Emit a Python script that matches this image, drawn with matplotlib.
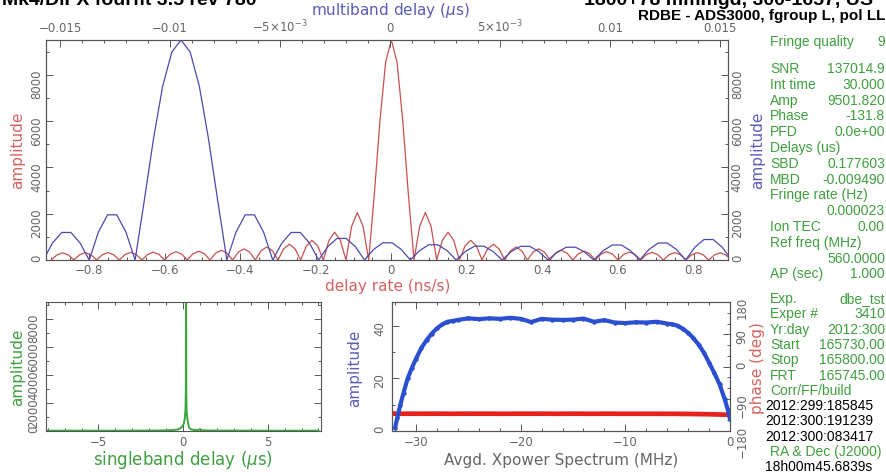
import numpy as np
import matplotlib
matplotlib.use("Agg")
import matplotlib.pyplot as plt
from matplotlib.ticker import FixedLocator, MultipleLocator, FuncFormatter

W, H = 887, 476

# --- delay rate spectrum (red), sampled every 0.015 ns/s from -0.9 to 0.9
rate_x = np.linspace(-0.9, 0.9, 121)
rate_amp = [0, 220, 310, 220, 0, 227, 320, 227, 0, 227, 320, 227, 0, 234, 330, 234,
            0, 241, 340, 241, 0, 256, 360, 256, 0, 270, 380, 270, 0, 298, 420, 298,
            0, 341, 480, 341, 0, 398, 560, 398, 0, 483, 680, 483, 0, 604, 850, 604,
            0, 852, 1200, 852, 0, 1456, 2050, 1456,
            0, 2850, 6050, 8550, 9500, 8550, 6050, 2850,
            0, 1456, 2050, 1456, 0, 852, 1200, 852, 0, 604, 850, 604, 0, 483, 680, 483,
            0, 398, 560, 398, 0, 341, 480, 341, 0, 298, 420, 298, 0, 270, 380, 270,
            0, 256, 360, 256, 0, 241, 340, 241, 0, 234, 330, 234, 0, 227, 320, 227,
            0, 227, 320, 227, 0, 220, 310, 220, 0]

# --- multiband delay spectrum (blue), in microseconds
mbd_x = np.linspace(-0.01577, 0.01554, 76)
mbd_amp = [0, 735, 1189, 1189, 735, 0, 1205, 1950, 1950, 1205,
           0, 2570, 5230, 7500, 8980, 9500, 8980, 7500, 5230, 2570,
           0, 1205, 1950, 1950, 1205, 0, 735, 1189, 1189, 735,
           0, 576, 932, 932, 576, 0, 459, 742, 742, 459,
           0, 406, 656, 656, 406, 0, 370, 599, 599, 370,
           0, 365, 590, 590, 365, 0, 341, 552, 552, 341,
           0, 400, 647, 647, 400, 0, 453, 732, 732, 453,
           0, 547, 884, 884, 547, 0]

# --- singleband delay (green)
sbd_x = [-8.0, -6.0, -4.0, -2.0, -1.0, -0.6, -0.3, -0.15, -0.05, 0.0, 0.05, 0.10, 0.14,
         0.165, 0.178, 0.19, 0.21, 0.25, 0.30, 0.35, 0.45, 0.6, 0.9, 1.0, 1.1, 1.4, 2.0,
         4.0, 6.0, 8.0]
sbd_amp = [20, 25, 20, 30, 45, 70, 110, 200, 320, 420, 550, 900, 1500,
           3000, 9500, 3000, 1400, 900, 500, 250, 130, 80, 60, 140, 60, 40, 30,
           25, 20, 20]

# --- averaged cross power spectrum
freq = [-32.0, -31.8, -31.5, -31.2, -30.8, -30.4, -30.0, -29.5, -29.0, -28.5, -28.0,
        -27.5, -27.0, -26.5, -26.0, -25.0, -24.0, -23.0, -22.0, -21.0, -20.0, -19.0,
        -18.0, -17.0, -16.0, -15.0, -14.0, -13.0, -12.0, -11.0, -10.0, -9.0, -8.0,
        -7.0, -6.0, -5.5, -5.0, -4.5, -4.0, -3.5, -3.0, -2.5, -2.0, -1.5, -1.0, -0.5,
        -0.2, 0.0]
xp_amp = [1.3, 5.0, 10.0, 14.5, 20.0, 24.0, 27.5, 31.5, 34.5, 37.0, 39.0,
          40.5, 41.5, 41.8, 42.2, 42.8, 42.5, 42.8, 42.6, 43.0, 42.6, 41.4,
          42.6, 42.3, 42.2, 42.3, 42.7, 41.5, 42.1, 41.2, 41.0, 41.3, 41.2,
          41.5, 40.8, 40.5, 40.0, 38.8, 37.3, 35.3, 32.8, 29.8, 26.0, 22.0, 17.8, 12.0,
          8.0, 4.5]
xp_phase = [-131.5, -131.8, -131.6, -131.9, -131.7, -131.8, -131.6, -131.9, -131.7, -131.8, -131.6,
            -131.8, -131.7, -131.9, -131.8, -131.6, -131.8, -131.7, -131.9, -131.8, -131.7, -131.8,
            -131.6, -131.9, -131.8, -131.7, -131.8, -131.9, -131.7, -131.8, -131.9, -131.8, -132.0,
            -131.9, -132.1, -132.0, -132.2, -132.3, -132.4, -132.6, -132.8, -133.0, -133.3, -133.6, -134.0, -134.4,
            -134.8, -135.0]

# --- fit summary text
info_labels = ["Fringe quality", "SNR", "Int time", "Amp", "Phase", "PFD", "Delays (us)",
               "SBD", "MBD", "Fringe rate (Hz)", "", "Ion TEC", "Ref freq (MHz)", "", "AP (sec)"]
info_values = ["9", "137014.9", "30.000", "9501.820", "-131.8", "0.0e+00", "",
               "0.177603", "-0.009490", "", "0.000023", "0.00", "", "560.0000", "1.000"]
exp_labels = ["Exp.", "Exper #", "Yr:day", "Start", "Stop", "FRT", "Corr/FF/build"]
exp_values = ["dbe_tst", "3410", "2012:300", "165730.00", "165800.00", "165745.00", ""]
build_lines = ["2012:299:185845", "2012:300:191239", "2012:300:083417"]

RED = "#d4625f"
BLUE = "#5c5cb8"
GREEN = "#3f9f3f"
FRAME = "#555555"
TICK = "#666666"

plt.rcParams["font.family"] = "DejaVu Sans"
fig = plt.figure(figsize=(8.87, 4.76), dpi=100)


def box(x0, y0, x1, y1):
    return [x0 / W, 1 - y1 / H, (x1 - x0) / W, (y1 - y0) / H]


def ftext(x, y, s, **kw):
    fig.text(x / W, 1 - y / H, s, **kw)


def style(ax):
    for sp in ax.spines.values():
        sp.set_color(FRAME)
        sp.set_linewidth(0.8)
    ax.tick_params(which="both", direction="in", colors=FRAME, labelcolor=TICK, labelsize=8.5,
                   width=0.7)
    ax.tick_params(which="major", length=5)
    ax.tick_params(which="minor", length=2.5)


numfmt = FuncFormatter(lambda v, p: ("%g" % v).replace("-", "\u2212"))
lab = dict(fontsize=11, ha="center", va="center")

# top panel: delay rate / multiband delay
ax = fig.add_axes(box(46, 40, 728, 260))
style(ax)
ax.plot(rate_x, rate_amp, color="#c8504e", lw=0.9)
ax.set_xlim(-0.914, 0.891)
ax.set_ylim(0, 9500)
ax.xaxis.set_major_locator(MultipleLocator(0.2))
ax.xaxis.set_minor_locator(MultipleLocator(0.05))
ax.xaxis.set_major_formatter(numfmt)
ax.yaxis.set_major_locator(FixedLocator([0, 2000, 4000, 6000, 8000]))
ax.yaxis.set_minor_locator(MultipleLocator(1000))
ax.tick_params(axis="y", which="both", left=True, right=True, labelleft=True, labelright=True)
ax.tick_params(axis="y", labelrotation=90, pad=2)
ax.tick_params(axis="x", which="both", top=False, pad=3)

axt = ax.twiny()
style(axt)
axt.plot(mbd_x, mbd_amp, color="#4a4ab0", lw=0.9)
axt.set_xlim(-0.01565, 0.01538)
axt.xaxis.set_major_locator(FixedLocator([-0.015, -0.01, -0.005, 0, 0.005, 0.01, 0.015]))
axt.set_xticklabels(["\u22120.015", "\u22120.01", "\u22125\u00d710$^{-3}$", "0",
                     "5\u00d710$^{-3}$", "0.01", "0.015"])
axt.xaxis.set_minor_locator(MultipleLocator(0.001))
axt.tick_params(axis="x", which="both", bottom=False, pad=3.5)

ftext(390, 10, "multiband delay ($\\mu$s)", color=BLUE, **lab)
ftext(388, 286, "delay rate (ns/s)", color=RED, **lab)
ftext(18, 150, "amplitude", color=RED, rotation=90, **lab)
ftext(758, 150, "amplitude", color=BLUE, rotation=90, **lab)

# bottom left: singleband delay
axs = fig.add_axes(box(46, 302, 321, 431))
style(axs)
axs.plot(sbd_x, sbd_amp, color="#3aa83a", lw=1.4)
axs.set_xlim(-8.1, 8.15)
axs.set_ylim(0, 9214)
axs.xaxis.set_major_locator(MultipleLocator(5))
axs.xaxis.set_minor_locator(MultipleLocator(1))
axs.xaxis.set_major_formatter(numfmt)
axs.yaxis.set_major_locator(FixedLocator([0, 2000, 4000, 6000, 8000]))
axs.yaxis.set_minor_locator(MultipleLocator(1000))
axs.tick_params(which="both", top=True, right=True)
axs.tick_params(axis="y", labelrotation=90, pad=4)
axs.tick_params(axis="x", pad=3.5)
ftext(18, 367, "amplitude", color=GREEN, rotation=90, **lab)
ftext(183, 460, "singleband delay ($\\mu$s)", color=GREEN, fontsize=12, ha="center", va="center")

# bottom right: averaged cross power spectrum
axa = fig.add_axes(box(392, 302, 730, 431))
style(axa)
axa.plot(freq, xp_amp, color="#2a4fd0", lw=3.0, marker="o", ms=2.2, zorder=2)
axa.set_xlim(-32.3, 0.0)
axa.set_ylim(0, 49)
axa.xaxis.set_major_locator(MultipleLocator(10))
axa.xaxis.set_minor_locator(MultipleLocator(2))
axa.xaxis.set_major_formatter(numfmt)
axa.yaxis.set_major_locator(FixedLocator([0, 20, 40]))
axa.yaxis.set_minor_locator(MultipleLocator(10))
axa.tick_params(which="both", top=True, right=False)
axa.tick_params(axis="y", labelrotation=90, pad=4)
axa.tick_params(axis="x", pad=3.5)
axa.patch.set_visible(False)

axp = axa.twinx()
style(axp)
axp.plot(freq, xp_phase, color="#e6221e", lw=3.4)
axp.set_ylim(-180, 180)
axp.yaxis.set_major_locator(FixedLocator([-180, -90, 0, 90, 180]))
axp.yaxis.set_minor_locator(MultipleLocator(30))
axp.yaxis.set_major_formatter(numfmt)
axp.tick_params(axis="y", labelrotation=90, pad=4)
axa.set_zorder(axp.get_zorder() + 1)

ftext(355, 368, "amplitude", color=BLUE, rotation=90, **lab)
ftext(561, 460, "Avgd. Xpower Spectrum (MHz)", color=TICK, **lab)
ftext(758, 368, "phase (deg)", color=RED, rotation=90, **lab)

# headers (partly cut off at the top edge, as in the original plot)
hdr = dict(fontfamily="Liberation Sans", fontweight="bold", va="baseline")
ftext(2, 5, "Mk4/DiFX fourfit 3.5 rev 780", fontsize=14, ha="left", **hdr)
ftext(584, 5, "1800+78 mmmgd, 300-1657, US", fontsize=14, ha="left", **hdr)
ftext(885, 20, "RDBE - ADS3000, fgroup L, pol LL", fontsize=11, ha="right", **hdr)

# fit summary column
txt = dict(fontfamily="Liberation Sans", fontsize=10, va="center")
info_y = [42, 69, 84.8, 100.6, 116.4, 132.2, 148, 163.8, 179.6, 195.4, 211.2, 227, 242.8, 258.6, 274.4]
for lab_s, val, y in zip(info_labels, info_values, info_y):
    if lab_s:
        ftext(770, y, lab_s, color=GREEN, ha="left", **txt)
    if val:
        ftext(885, y, val, color=GREEN, ha="right", **txt)

exp_y = [299, 314.3, 329.6, 344.9, 360.2, 375.5, 390.8]
for lab_s, val, y in zip(exp_labels, exp_values, exp_y):
    ftext(770, y, lab_s, color=GREEN, ha="left", **txt)
    if val:
        ftext(885, y, val, color=GREEN, ha="right", **txt)
for line, y in zip(build_lines, [406.1, 421.4, 436.7]):
    ftext(765, y, line, color="black", ha="left", **txt)
ftext(770, 452, "RA & Dec (J2000)", color=GREEN, ha="left", **txt)
ftext(765, 467.3, "18h00m45.6839s", color="black", ha="left", **txt)

fig.savefig("out.png", dpi=100)
